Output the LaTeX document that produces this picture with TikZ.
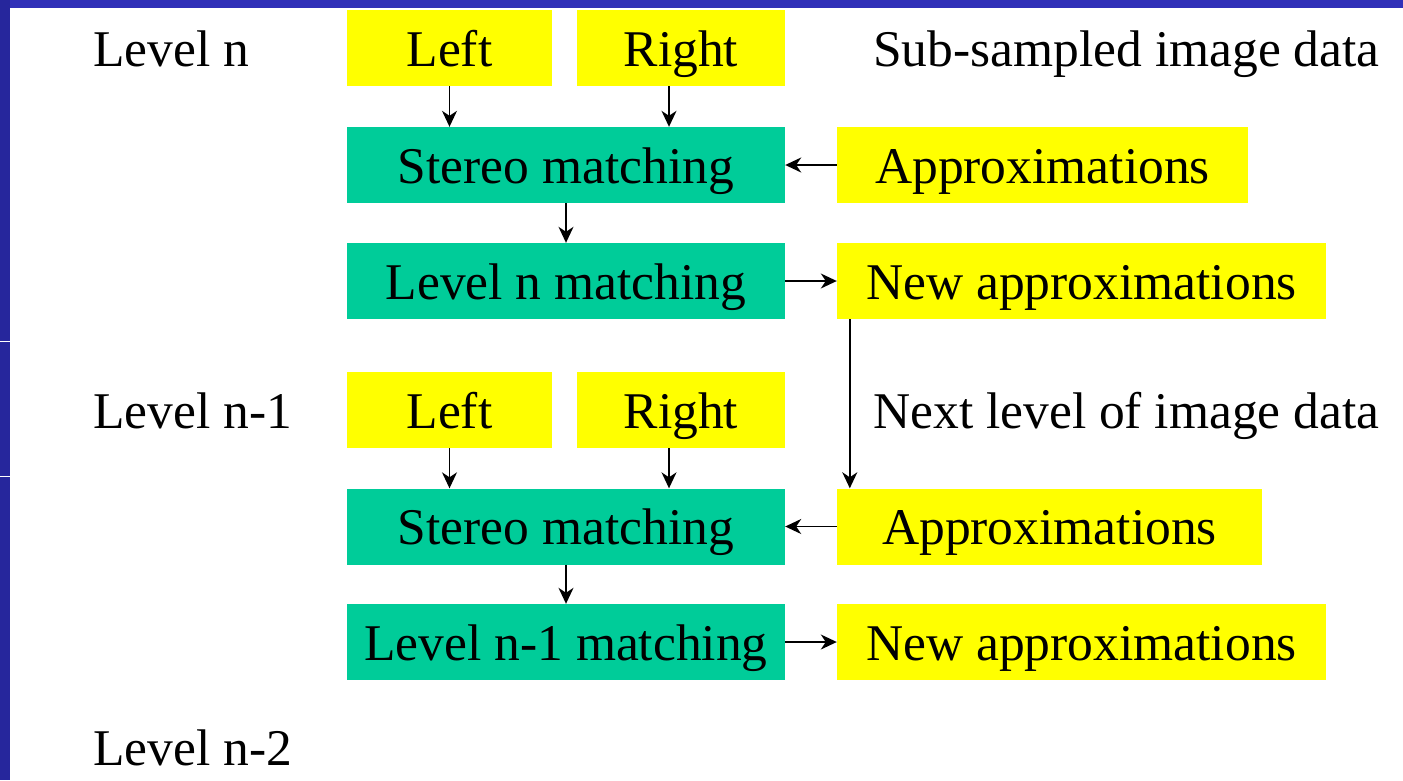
\documentclass[tikz,border=0pt]{standalone}
\usepackage{fontspec}
\setmainfont{Liberation Serif}
\usetikzlibrary{arrows.meta}
\definecolor{ybox}{HTML}{FFFF00}
\definecolor{gbox}{HTML}{00CC99}
\definecolor{bleft}{HTML}{26269C}
\definecolor{btop}{HTML}{3030B8}
\begin{document}
\begin{tikzpicture}[x=1pt,y=-1pt,
  bigfont/.style={font=\fontsize{51.5}{60}\selectfont},
  yb/.style={bigfont,fill=ybox,inner sep=0pt,minimum height=76pt,text height=47pt,text depth=11pt},
  gb/.style={bigfont,fill=gbox,inner sep=0pt,minimum height=76pt,minimum width=438pt,text height=47pt,text depth=11pt},
  lab/.style={bigfont,anchor=base west,inner sep=0pt},
  arr/.style={line width=1.6pt,-{Stealth[length=16pt,width=15pt,inset=5pt]}}]
\useasboundingbox (0,0) rectangle (1403,780);
\fill[white] (0,0) rectangle (1403,780);
\fill[btop] (0,0) rectangle (1403,8);
\fill[bleft] (0,0) rectangle (10,780);
\draw[white,line width=1pt] (0,341) -- (10,341);
\draw[white,line width=1pt] (0,476) -- (10,476);
% level n
\node[lab] (tn) at (93,66) {Level n};
\node[lab] (ts) at (873,66) {Sub-sampled image data};
\node[yb,minimum width=205pt] (l1) at (449.5,48) {Left};
\node[yb,minimum width=208pt] (r1) at (681,48) {Right};
\node[gb] (s1) at (566,165) {Stereo matching};
\node[yb,minimum width=411pt] (a1) at (1042.5,165) {Approximations};
\node[gb] (m1) at (566,281) {Level n matching};
\node[yb,minimum width=489pt] (n1) at (1081.5,281) {New approximations};
% level n-1
\node[lab] (tn1) at (93,428) {Level n-1};
\node[lab] (tx) at (873,428) {Next level of image data};
\node[yb,minimum width=205pt] (l2) at (449.5,410) {Left};
\node[yb,minimum width=208pt] (r2) at (681,410) {Right};
\node[gb] (s2) at (566,526.5) {Stereo matching};
\node[yb,minimum width=425pt] (a2) at (1049.5,526.5) {Approximations};
\node[gb] (m2) at (566,642) {Level n-1 matching};
\node[yb,minimum width=489pt] (n2) at (1081.5,642) {New approximations};
\node[lab] (tn2) at (93,765) {Level n-2};
% arrows
\draw[arr] (l1.south) -- (l1.south |- s1.north);
\draw[arr] ([xshift=-12pt]r1.south) -- ([xshift=-12pt]r1.south |- s1.north);
\draw[arr] (a1.west) -- (s1.east);
\draw[arr] (s1.south) -- (m1.north);
\draw[arr] (m1.east) -- (n1.west);
\draw[arr] ([xshift=13pt]n1.south west) -- ([xshift=13pt]n1.south west |- a2.north);
\draw[arr] (l2.south) -- (l2.south |- s2.north);
\draw[arr] ([xshift=-12pt]r2.south) -- ([xshift=-12pt]r2.south |- s2.north);
\draw[arr] (a2.west) -- (s2.east);
\draw[arr] (s2.south) -- (m2.north);
\draw[arr] (m2.east) -- (n2.west);
\end{tikzpicture}
\end{document}
